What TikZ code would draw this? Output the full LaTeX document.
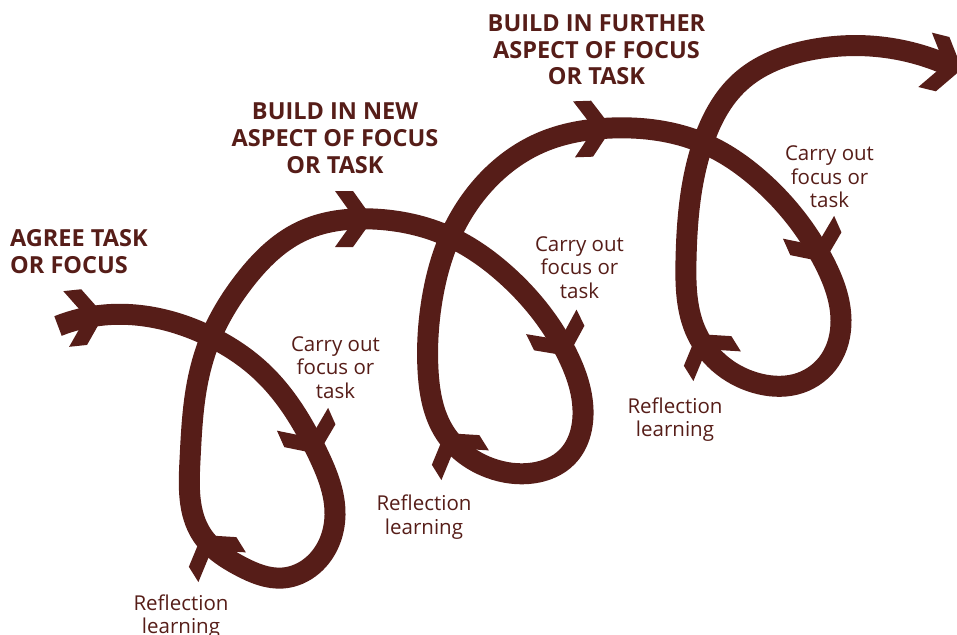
\documentclass[tikz,border=0pt]{standalone}
\usepackage{fontspec}
\setmainfont{Open Sans}
\usetikzlibrary{hobby}
\definecolor{brn}{RGB}{86,29,24}
\newcommand\chevron[3]{\fill[brn, shift={(#1,#2)}, rotate=#3] (-38,28) -- (-20,28) -- (0,0) -- (-20,-28) -- (-38,-28) -- (-18,0) -- cycle;}
\begin{document}
\begin{tikzpicture}[x=1pt,y=-1pt,
  spiral/.style={draw=brn, line width=21pt, line join=round},
  head/.style={font=\fontsize{23.5}{26.7}\selectfont\bfseries, text=brn, align=center, inner sep=0pt},
  lab/.style={font=\fontsize{20.5}{23.4}\selectfont, text=brn, align=center, inner sep=0pt}]
\useasboundingbox (0,0) rectangle (957,634);
% spiral
\draw[spiral, use Hobby shortcut]
 (58,326) .. (104,315) .. (211,337)
 .. (262,372) .. (318,454) .. (335,515) .. (313,565) .. (283,578) .. (240,566) .. (202,535)
 .. (190,460) .. (197,385) .. (211,337) .. (245,280) .. (300,232) .. (373,219) .. (450,237)
 .. (505,274) .. (568,356) .. (583,410) .. (567,457) .. (533,473) .. (490,468) .. (445,433)
 .. (428,370) .. (432,300) .. (450,237) .. (485,183) .. (540,143) .. (612,128) .. (703,143)
 .. (760,180) .. (824,262) .. (841,320) .. (830,360) .. (800,383) .. (760,384) .. (697,334)
 .. (686,260) .. (703,143) .. (740,82) .. (810,50) .. (870,46) .. (950,66);
% chevrons
\chevron{104}{315}{6}
\chevron{318}{454}{-66}
\chevron{202}{535}{122}
\chevron{373}{219}{0}
\chevron{568}{356}{-64}
\chevron{445}{433}{122}
\chevron{612}{128}{2}
\chevron{824}{262}{-66}
\chevron{697}{334}{122}
\chevron{962}{69}{-14}
% labels
\node[head, anchor=west, align=left] (agree) at (10,251.7) {AGREE TASK\\OR FOCUS};
\node[head] (build1) at (335,138.3) {BUILD IN NEW\\ASPECT OF FOCUS\\OR TASK};
\node[head] (build2) at (596.5,50) {BUILD IN FURTHER\\ASPECT OF FOCUS\\OR TASK};
\node[lab] (carry1) at (335.5,367.3) {Carry out\\focus or\\task};
\node[lab] (carry2) at (579.5,267.5) {Carry out\\focus or\\task};
\node[lab] (carry3) at (829.5,176.7) {Carry out\\focus or\\task};
\node[lab] (refl1) at (181,616.4) {Reflection\\learning};
\node[lab] (refl2) at (424,517) {Reflection\\learning};
\node[lab] (refl3) at (675,419.6) {Reflection\\learning};
\end{tikzpicture}
\end{document}
